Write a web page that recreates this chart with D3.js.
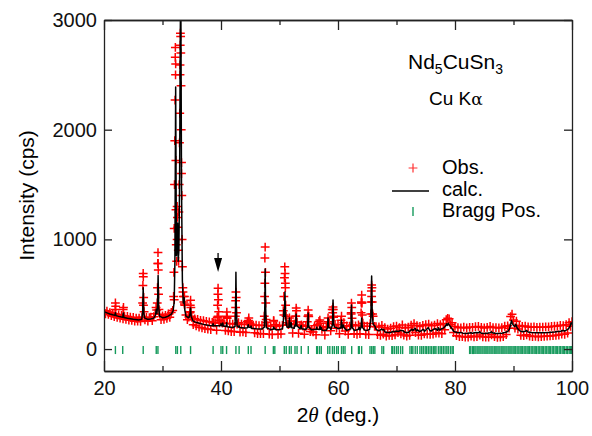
<!DOCTYPE html>
<html>
<head>
<meta charset="utf-8">
<script src="https://cdn.jsdelivr.net/npm/d3@7"></script>
<style>
  html, body { margin: 0; padding: 0; background: #fff; }
  svg { display: block; font-family: "Liberation Sans", Arial, sans-serif; }
</style>
</head>
<body>
<div id="chart"></div>
<script>
// observed counts on a 0.25 deg grid starting at 20 deg
const obsStart = 20, obsStep = 0.25;
const obsCounts = [
  352, 322, 346, 317,  333, 304, 326, 296,  319, 288, 312, 282,  306, 276, 301, 271,
  297, 265, 290, 262,  288, 254, 281, 256,  282, 252, 292, 400,  266, 288, 255, 286,
  290, 259, 295, 322,  355, 780, 318, 268,  302, 270, 308, 280,  320, 290, 334, 352,
  450, 2600, 1300, 800, 2500, 1600, 520, 410, 310, 268, 292, 340, 290, 222, 276, 212,
  270, 200, 262, 194,  258, 186, 252, 182,  248, 178, 244, 240,  240, 172, 300, 238,
  256, 236, 242, 170,  290, 166, 232, 160,  228, 160, 380, 228,  240, 154, 226, 156,
  224, 150, 248, 240,  234, 220, 218, 148,  218, 142, 214, 140,  216, 140, 600, 242,
  214, 136, 208, 132,  256, 222, 208, 134,  212, 138, 216, 310,  600, 240, 222, 230,
  256, 146, 226, 300,  246, 144, 214, 220,  210, 136, 208, 248,  298, 160, 180, 156,
  212, 130, 224, 252,  236, 180, 200, 128,  204, 250, 236, 166,  360, 300, 224, 190,
  222, 140, 262, 200,  240, 164, 212, 134,  208, 320, 222, 140,  212, 134, 220, 140,
  420, 236, 208, 134,  208, 132, 232, 480,  300, 206, 204, 132,  202, 126, 215, 136,
  196, 118, 182, 124,  190, 122, 205, 130,  210, 150, 196, 138,  220, 128, 192, 118,
  200, 126, 218, 170,  232, 150, 214, 128,  206, 126, 215, 138,  222, 136, 226, 134,
  212, 136, 218, 146,  232, 146, 222, 140,  232, 176, 268, 280,  276, 222, 240, 150,
  206, 122, 196, 114,  194, 114, 200, 110,  192, 108, 198, 118,  198, 112, 204, 114,
  206, 128, 198, 112,  192, 110, 198, 108,  206, 130, 196, 114,  196, 106, 192, 110,
  196, 114, 208, 132,  212, 190, 296, 318,  264, 190, 254, 182,  214, 126, 206, 122,
  210, 130, 202, 118,  200, 114, 202, 116,  198, 112, 200, 114,  200, 116, 202, 118,
  202, 120, 206, 122,  208, 126, 210, 128,  216, 136, 214, 134,  222, 146, 240, 208,
  250
];

// extra observed points on the peak flanks [2theta, counts]
const obsPeaks = [
  [21.9, 360], [21.95, 420], [22.0, 390], [23.28, 360], [23.33, 380],
  [26.6, 420], [26.65, 580], [26.7, 690], [26.72, 660], [26.78, 470], [26.85, 340],
  [28.9, 380], [29.1, 420], [29.15, 560], [29.2, 780], [29.23, 880], [29.28, 720], [29.33, 500], [29.4, 360],
  [31.9, 480], [31.95, 700], [32.0, 1100], [32.05, 1500], [32.1, 1900], [32.15, 2270], [32.18, 2660],
  [32.2, 2750], [32.23, 2500], [32.28, 1720], [32.3, 1270], [32.35, 950], [32.42, 800], [32.5, 1000],
  [32.55, 1200], [32.6, 1110], [32.7, 900], [32.8, 1250], [32.85, 1500], [32.9, 1880], [32.95, 2150],
  [33.0, 2590], [33.03, 2770], [33.06, 2880], [33.1, 2850], [33.13, 2700], [33.17, 2400], [33.2, 2000],
  [33.25, 1700], [33.3, 1400], [33.35, 1000], [33.4, 750], [33.48, 560], [33.55, 480], [33.65, 430],
  [33.75, 480], [33.8, 400],
  [34.7, 330], [34.75, 400], [34.8, 446], [34.85, 380], [34.9, 300],
  [39.35, 290], [39.42, 400], [39.47, 500], [39.5, 555], [39.55, 450], [39.6, 340], [39.68, 260],
  [40.95, 300], [41.0, 337], [41.05, 280],
  [42.45, 300], [42.5, 440], [42.55, 520], [42.6, 470], [42.65, 330],
  [44.7, 260], [44.75, 283],
  [47.4, 300], [47.45, 480], [47.5, 830], [47.55, 930], [47.6, 700], [47.65, 420], [47.72, 270],
  [49.0, 260],
  [50.65, 350], [50.75, 480], [50.85, 650], [50.9, 750], [50.95, 690], [51.0, 560], [51.05, 400], [51.12, 300],
  [51.7, 283], [52.8, 300], [52.85, 374], [52.9, 350], [54.85, 300], [54.9, 355], [54.95, 310],
  [56.9, 264], [58.3, 283], [59.1, 330], [59.15, 383], [59.2, 360], [59.25, 290], [60.6, 300],
  [62.25, 330], [62.3, 419], [62.35, 380], [62.4, 280],
  [63.95, 330], [64.0, 430], [64.05, 492], [64.1, 420], [64.15, 310],
  [65.6, 320], [65.65, 430], [65.7, 530], [65.75, 583], [65.8, 560], [65.85, 430], [65.92, 320]
];

// calculated profile [2theta, counts]
const calcPts = [
  [20.0, 340], [20.5, 330], [21.0, 320], [21.5, 312], [21.85, 307], [21.95, 332], [22.05, 305], [22.5, 298],
  [23.0, 292], [23.2, 290], [23.3, 328], [23.4, 288], [24.0, 281], [25.0, 272], [26.0, 266], [26.45, 272],
  [26.6, 330], [26.7, 560], [26.8, 330], [26.95, 282], [27.5, 271], [28.0, 274], [28.5, 282], [28.8, 310],
  [28.93, 360], [29.05, 325], [29.15, 400], [29.25, 670], [29.35, 380], [29.5, 300], [30.0, 286], [30.5, 290],
  [31.0, 300], [31.5, 318], [31.8, 345], [32.0, 430], [32.12, 800], [32.25, 2390], [32.38, 850], [32.5, 1000],
  [32.58, 1150], [32.68, 800], [32.8, 900], [32.92, 1500], [33.03, 2790], [33.12, 3400], [33.25, 1500],
  [33.4, 620], [33.55, 420], [33.7, 470], [33.8, 360], [34.0, 300], [34.5, 285], [34.7, 320], [34.8, 375],
  [34.9, 300], [35.2, 258], [35.5, 248], [36.0, 240], [37.0, 225], [38.0, 215], [38.55, 212], [38.65, 232],
  [38.75, 212], [39.5, 212], [39.95, 214], [40.0, 232], [40.1, 212], [40.25, 212], [40.3, 238], [40.4, 210],
  [40.9, 205], [40.97, 240], [41.05, 204], [42.0, 197], [42.4, 205], [42.5, 400], [42.55, 700], [42.62, 380],
  [42.75, 210], [43.0, 200], [43.1, 212], [43.2, 196], [44.0, 191], [44.55, 195], [44.65, 222], [44.75, 200],
  [45.05, 196], [45.13, 210], [45.22, 190], [46.0, 185], [47.0, 182], [47.4, 200], [47.5, 420], [47.55, 730],
  [47.62, 400], [47.75, 195], [48.5, 177], [48.9, 180], [49.0, 200], [49.1, 182], [49.2, 190], [49.3, 178],
  [50.0, 177], [50.5, 185], [50.65, 250], [50.75, 360], [50.85, 300], [50.93, 520], [51.02, 320], [51.15, 220],
  [51.2, 240], [51.3, 200], [51.6, 200], [51.7, 283], [51.8, 200], [51.95, 205], [52.0, 240], [52.1, 195],
  [52.5, 190], [52.65, 220], [52.75, 210], [52.85, 319], [52.95, 215], [53.5, 185], [53.7, 215], [53.8, 185],
  [54.5, 178], [54.8, 200], [54.9, 328], [55.0, 200], [55.5, 175], [56.3, 180], [56.35, 200], [56.45, 180],
  [56.85, 178], [56.92, 210], [57.0, 180], [57.15, 195], [57.3, 172], [58.0, 170], [58.2, 190], [58.3, 283],
  [58.4, 195], [58.6, 195], [58.8, 180], [59.05, 220], [59.15, 447], [59.25, 230], [59.4, 200], [59.75, 195],
  [60.0, 185], [60.5, 195], [60.6, 264], [60.7, 190], [60.9, 220], [61.0, 200], [61.2, 185], [61.5, 170],
  [62.2, 185], [62.3, 401], [62.4, 200], [62.8, 168], [63.5, 180], [63.63, 200], [63.75, 175], [63.95, 200],
  [64.05, 283], [64.15, 200], [64.5, 175], [65.0, 170], [65.4, 180], [65.48, 230], [65.6, 250], [65.75, 665],
  [65.82, 400], [65.9, 290], [66.0, 230], [66.1, 220], [66.3, 210], [66.5, 180], [67.0, 165], [67.45, 182],
  [67.6, 175], [67.8, 180], [68.0, 155], [68.5, 150], [69.0, 150], [69.3, 160], [69.7, 158], [70.0, 165],
  [70.3, 160], [70.75, 170], [71.1, 168], [71.5, 150], [72.0, 150], [72.3, 165], [72.6, 180], [72.8, 170],
  [73.2, 190], [73.4, 165], [73.6, 175], [74.0, 160], [74.3, 170], [74.6, 180], [74.8, 162], [75.15, 180],
  [75.4, 195], [75.7, 170], [76.0, 165], [76.3, 180], [76.75, 185], [77.0, 170], [77.15, 195], [77.4, 172],
  [77.7, 185], [78.0, 190], [78.3, 205], [78.55, 230], [78.65, 215], [78.85, 235], [79.0, 220], [79.2, 205],
  [79.5, 185], [79.8, 160], [80.5, 148], [81.0, 152], [81.3, 145], [82.0, 142], [82.7, 148], [83.0, 145],
  [83.5, 150], [84.0, 148], [84.2, 158], [84.5, 145], [85.0, 142], [85.5, 145], [86.0, 148], [86.2, 158],
  [86.5, 146], [87.0, 142], [87.5, 143], [88.0, 145], [88.5, 150], [89.0, 160], [89.3, 180], [89.5, 220],
  [89.65, 260], [89.8, 235], [90.0, 215], [90.2, 205], [90.4, 225], [90.6, 195], [91.0, 168], [91.5, 158],
  [92.0, 162], [92.2, 170], [92.5, 155], [93.0, 150], [94.0, 148], [95.0, 148], [96.0, 150], [97.0, 155],
  [97.5, 160], [98.0, 160], [98.4, 170], [98.7, 165], [99.0, 172], [99.4, 185], [99.7, 210], [99.85, 240],
  [100.0, 225]
];

// Bragg reflection positions (2theta)
const braggPos = [
  21.95, 23.2, 26.7, 28.93, 29.22, 32.27, 32.55, 33.12, 34.8, 38.65, 40.0, 40.3, 40.95, 42.55, 43.1,
  44.67, 45.13, 47.55, 48.95, 49.2, 50.82, 51.15, 51.68, 52.0, 52.65, 53.0, 53.72, 54.92, 56.35, 56.5,
  56.85, 57.15, 58.25, 58.6, 59.05, 59.37, 59.76, 60.05, 60.6, 60.9, 61.2, 62.34, 63.5, 63.63, 64.04,
  65.47, 65.76, 66.03, 66.3, 67.5, 67.8, 69.2, 69.35, 69.65, 70.0, 70.3, 70.7, 71.05, 72.3, 72.6, 72.8,
  73.2, 73.55, 74.0, 74.3, 74.58, 74.9, 75.15, 75.44, 75.73, 76.0, 76.3, 76.55, 76.75, 77.15, 77.45,
  77.7, 78.0, 78.3, 78.6, 78.85, 79.2, 79.5, 79.7,
  82.5, 82.7, 83.0, 83.15, 83.4, 83.6, 83.9, 84.1, 84.3, 84.6, 84.8, 85.1, 85.3, 85.5, 85.8, 86.0, 86.3,
  86.5, 86.8, 87.0, 87.2, 87.5, 87.7, 88.0, 88.2, 88.4, 88.7, 88.9, 89.2, 89.4, 89.6, 89.9, 90.1, 90.3,
  90.6, 90.8, 91.1, 91.3, 91.5, 91.8, 92.0, 92.3, 92.5, 92.7, 93.0, 93.2, 93.5, 93.7, 93.9, 94.2, 94.4,
  94.7, 94.9, 95.1, 95.4, 95.6, 95.9, 96.1, 96.3, 96.6, 96.8, 97.1, 97.3, 97.5, 97.8, 98.0, 98.3, 98.5,
  98.7, 99.0, 99.2, 99.5, 99.7, 99.9
];

const xTicks = [20, 40, 60, 80, 100];
const xMinorTicks = [30, 50, 70, 90];
const yTicks = [0, 1000, 2000, 3000];
const arrowAt = 39.5, arrowFrom = 875, arrowTo = 702;

const W = 592, H = 436;
const margin = { top: 20, right: 20, bottom: 65, left: 104 };
const width = W - margin.left - margin.right;
const height = H - margin.top - margin.bottom;

const svg = d3.select("#chart").append("svg")
  .attr("width", W)
  .attr("height", H);

const g = svg.append("g").attr("transform", `translate(${margin.left},${margin.top})`);

const x = d3.scaleLinear().domain([20, 100]).range([0, width]);
const y = d3.scaleLinear().domain([-200, 3000]).range([height, 0]);

g.append("clipPath").attr("id", "plotclip")
  .append("rect").attr("width", width).attr("height", height);

const plot = g.append("g").attr("clip-path", "url(#plotclip)");

// observed crosses
const obsAll = obsCounts.map((c, i) => [obsStart + i * obsStep, c]).concat(obsPeaks);
const cs = 4.4;
plot.append("g")
  .selectAll("path")
  .data(obsAll)
  .enter()
  .append("path")
  .attr("d", d => {
    const px = x(d[0]), py = y(d[1]);
    return `M${px - cs},${py}H${px + cs}M${px},${py - cs}V${py + cs}`;
  })
  .attr("stroke", "#ff0000")
  .attr("stroke-width", 1.5)
  .attr("fill", "none");

// calculated line
const line = d3.line().x(d => x(d[0])).y(d => y(d[1]));
plot.append("path")
  .datum(calcPts)
  .attr("d", line)
  .attr("fill", "none")
  .attr("stroke", "#000")
  .attr("stroke-width", 1.5)
  .attr("stroke-linejoin", "round");

// Bragg positions
plot.append("g")
  .selectAll("line")
  .data(braggPos)
  .enter()
  .append("line")
  .attr("x1", d => x(d)).attr("x2", d => x(d))
  .attr("y1", y(0) - 3).attr("y2", y(0) + 5)
  .attr("stroke", "#159a5c")
  .attr("stroke-width", 1.4);

// arrow marking the impurity peak
g.append("line")
  .attr("x1", x(arrowAt)).attr("x2", x(arrowAt))
  .attr("y1", y(arrowFrom)).attr("y2", y(arrowTo) - 10)
  .attr("stroke", "#000").attr("stroke-width", 1.3);
g.append("path")
  .attr("d", `M${x(arrowAt) - 4},${y(arrowTo) - 14}L${x(arrowAt) + 4},${y(arrowTo) - 14}L${x(arrowAt)},${y(arrowTo)}Z`)
  .attr("fill", "#000");

// axes
const axisStyle = sel => {
  sel.selectAll(".domain").attr("stroke", "#222").attr("stroke-width", 1.3);
  sel.selectAll(".tick line").attr("stroke", "#222").attr("stroke-width", 1.3);
  sel.selectAll("text").attr("font-size", 20).attr("fill", "#111")
    .attr("font-family", "Liberation Sans, Arial, sans-serif");
};

g.append("g").attr("transform", `translate(0,${height})`)
  .call(d3.axisBottom(x).tickValues(xTicks).tickSizeInner(-10).tickSizeOuter(0).tickPadding(10).tickFormat(d3.format("d")))
  .call(axisStyle);
g.append("g").attr("transform", `translate(0,${height})`)
  .call(d3.axisBottom(x).tickValues(xMinorTicks).tickSizeInner(-5).tickSizeOuter(0).tickFormat(""))
  .call(axisStyle);
g.append("g")
  .call(d3.axisTop(x).tickValues(xTicks).tickSizeInner(-10).tickSizeOuter(0).tickFormat(""))
  .call(axisStyle);
g.append("g")
  .call(d3.axisTop(x).tickValues(xMinorTicks).tickSizeInner(-5).tickSizeOuter(0).tickFormat(""))
  .call(axisStyle);
g.append("g")
  .call(d3.axisLeft(y).tickValues(yTicks).tickSizeInner(-8).tickSizeOuter(0).tickPadding(7).tickFormat(d3.format("d")))
  .call(axisStyle);
g.append("g").attr("transform", `translate(${width},0)`)
  .call(d3.axisRight(y).tickValues(yTicks).tickSizeInner(-8).tickSizeOuter(0).tickFormat(""))
  .call(axisStyle);

// axis titles
svg.append("text")
  .attr("transform", `translate(26,${margin.top + y(1400)}) rotate(-90)`)
  .attr("text-anchor", "middle")
  .attr("dominant-baseline", "central")
  .attr("font-size", 21)
  .text("Intensity (cps)");

const xt = svg.append("text")
  .attr("x", margin.left + width / 2)
  .attr("y", 422)
  .attr("text-anchor", "middle")
  .attr("font-size", 21);
xt.append("tspan").text("2");
xt.append("tspan").attr("font-style", "italic").attr("font-family", "Liberation Serif, serif").text("\u03b8");
xt.append("tspan").text(" (deg.)");

// compound label
const ttl = svg.append("text").attr("x", 408).attr("y", 69).attr("font-size", 21);
ttl.append("tspan").text("Nd");
ttl.append("tspan").attr("font-size", 14).attr("dy", 5).text("5");
ttl.append("tspan").attr("dy", -5).text("CuSn");
ttl.append("tspan").attr("font-size", 14).attr("dy", 5).text("3");

const rad = svg.append("text").attr("x", 429).attr("y", 105).attr("font-size", 19);
rad.append("tspan").text("Cu K");
rad.append("tspan").attr("font-family", "DejaVu Serif, serif").attr("font-size", 17).text("\u03b1");

// legend
const lg = svg.append("g");
lg.append("path")
  .attr("d", `M${413 - cs},168H${413 + cs}M413,${168 - cs}V${168 + cs}`)
  .attr("stroke", "#ff3030").attr("stroke-width", 1.2);
lg.append("line").attr("x1", 392).attr("x2", 429).attr("y1", 191).attr("y2", 191)
  .attr("stroke", "#000").attr("stroke-width", 1.5);
lg.append("line").attr("x1", 413).attr("x2", 413).attr("y1", 207).attr("y2", 216)
  .attr("stroke", "#159a5c").attr("stroke-width", 1.4);
[["Obs.", 174], ["calc.", 196], ["Bragg Pos.", 217]].forEach(([t, ty]) => {
  lg.append("text").attr("x", 442).attr("y", ty).attr("font-size", 20).text(t);
});
</script>
</body>
</html>
